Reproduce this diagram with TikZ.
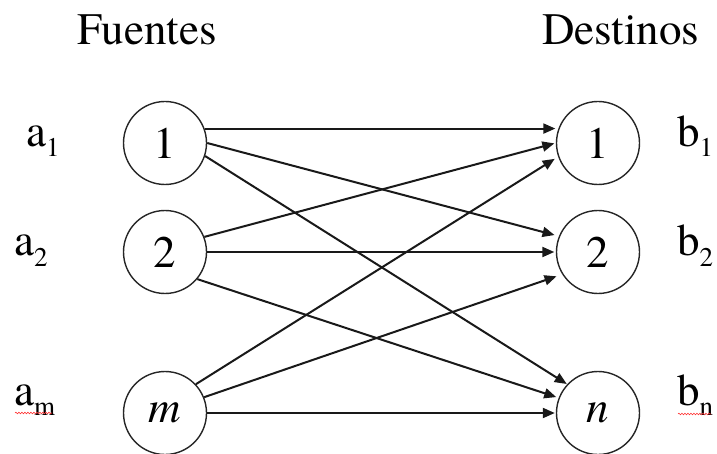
\documentclass[tikz,border=0pt]{standalone}
\usepackage{fontspec}
\setmainfont{texgyretermes}[Extension=.otf,UprightFont=*-regular,ItalicFont=*-italic,BoldFont=*-bold,BoldItalicFont=*-bolditalic]
\usetikzlibrary{arrows.meta,decorations.pathmorphing}
\newcommand{\subidx}[1]{\raisebox{-10pt}{\fontsize{27}{30}\selectfont #1}}
\tikzset{
  nodo/.style={circle,draw=black!85,line width=1.4pt,minimum size=83pt,inner sep=0pt,
    font=\rmfamily\fontsize{45}{52}\selectfont},
  lbl/.style={anchor=base west,inner sep=0pt,font=\rmfamily\fontsize{45}{52}\selectfont},
  flecha/.style={draw=black!90,line width=2pt,-{Triangle[length=12pt,width=10pt]}},
  squig/.style={red!80,line width=0.6pt,decorate,
    decoration={snake,amplitude=0.8pt,segment length=3pt}}
}
\begin{document}
\begin{tikzpicture}[x=1pt,y=-1pt]
  \useasboundingbox (0,0) rectangle (717,454);
  % headers
  \node[lbl] (fu) at (77,45) {Fuentes};
  \node[lbl] (de) at (542,45) {Destinos};
  % source nodes
  \node[nodo] (L1) at (165,143) {1};
  \node[nodo] (L2) at (165,252) {2};
  \node[nodo] (Lm) at (165,413) {\itshape m};
  % destination nodes
  \node[nodo] (R1) at (598,143) {1};
  \node[nodo] (R2) at (598,252) {2};
  \node[nodo] (Rn) at (598,413) {\itshape n};
  % labels
  \node[lbl] (a1) at (26,147) {a\subidx{1}};
  \node[lbl] (a2) at (14,256) {a\subidx{2}};
  \node[lbl] (am) at (14,405) {a\subidx{m}};
  \node[lbl] (b1) at (677,147) {b\subidx{1}};
  \node[lbl] (b2) at (677,256) {b\subidx{2}};
  \node[lbl] (bn) at (677,405) {b\subidx{n}};
  % spell-check squiggles
  \coordinate (sq1a) at (15,413);
  \coordinate (sq1b) at (52,413);
  \coordinate (sq2a) at (678,414);
  \coordinate (sq2b) at (711,414);
  \draw[squig] (sq1a) -- (sq1b);
  \draw[squig] (sq2a) -- (sq2b);
  % arcs
  \draw[flecha,shorten >=3pt]   (L1.20)  -- (R1.160);
  \draw[flecha,shorten >=4.5pt] (L1.0)   -- (R2.158);
  \draw[flecha,shorten >=0.5pt] (L1.-18) -- (Rn.137);
  \draw[flecha,shorten >=1.5pt] (L2.21)  -- (R1.180);
  \draw[flecha,shorten >=1.5pt] (L2.0)   -- (R2.180);
  \draw[flecha,shorten >=2.5pt] (L2.-40) -- (Rn.159);
  \draw[flecha,shorten >=4pt]   (Lm.43)  -- (R1.199);
  \draw[flecha,shorten >=6pt]   (Lm.22)  -- (R2.212);
  \draw[flecha,shorten >=1pt]   (Lm.0)   -- (Rn.180);
\end{tikzpicture}
\end{document}
